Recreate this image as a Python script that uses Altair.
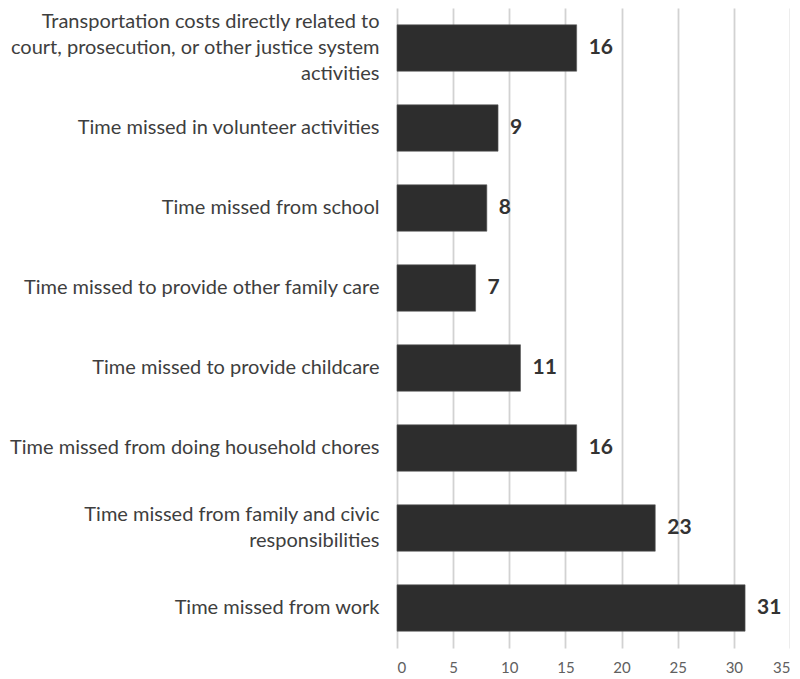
import altair as alt
import pandas as pd

categories = [
    "Transportation costs directly related to|court, prosecution, or other justice system|activities",
    "Time missed in volunteer activities",
    "Time missed from school",
    "Time missed to provide other family care",
    "Time missed to provide childcare",
    "Time missed from doing household chores",
    "Time missed from family and civic|responsibilities",
    "Time missed from work",
]
values = [16, 9, 8, 7, 11, 16, 23, 31]
x_ticks = [0, 5, 10, 15, 20, 25, 30, 35]

df = pd.DataFrame({"category": categories, "value": values})

FONT = "Lato"
LINE_H = 26

y_enc = alt.Y(
    "category:N",
    sort=categories,
    title=None,
    scale=alt.Scale(paddingInner=0.42, paddingOuter=0.21),
    axis=alt.Axis(
        labelExpr="split(datum.label, '|')",
        labelFont=FONT,
        labelFontSize=20,
        labelColor="#3e3e3e",
        labelAlign="right",
        labelPadding=18,
        labelLineHeight=LINE_H,
        labelOffset=alt.ExprRef(
            expr=f"-{LINE_H / 2}*(length(split(datum.label, '|'))-1)"
        ),
        ticks=False,
        domain=False,
        grid=False,
        labelLimit=420,
        minExtent=389,
        maxExtent=389,
    ),
)

x_enc = alt.X(
    "value:Q",
    title=None,
    scale=alt.Scale(domain=[0, 35], nice=False),
    axis=alt.Axis(
        values=x_ticks,
        labelFont=FONT,
        labelFontSize=15,
        labelColor="#606060",
        labelPadding=12,
        grid=True,
        gridColor="#d2d2d2",
        gridWidth=1.8,
        domain=False,
        ticks=False,
    ),
)

bars = alt.Chart(df).mark_bar(color="#2d2d2d", stroke="#5a5a5a", strokeWidth=0.6).encode(
    x=x_enc, y=y_enc
)

text = alt.Chart(df).mark_text(
    align="left", baseline="middle", dx=12, font=FONT, fontSize=21,
    fontWeight="bold", color="#333333"
).encode(
    x="value:Q",
    y=alt.Y("category:N", sort=categories),
    text="value:Q",
)

chart = (
    (bars + text)
    .properties(width=393, height=640, padding=0)
    .configure_view(stroke=None)
)

chart.save("out.html", embed_options={"renderer": "svg", "actions": False})
